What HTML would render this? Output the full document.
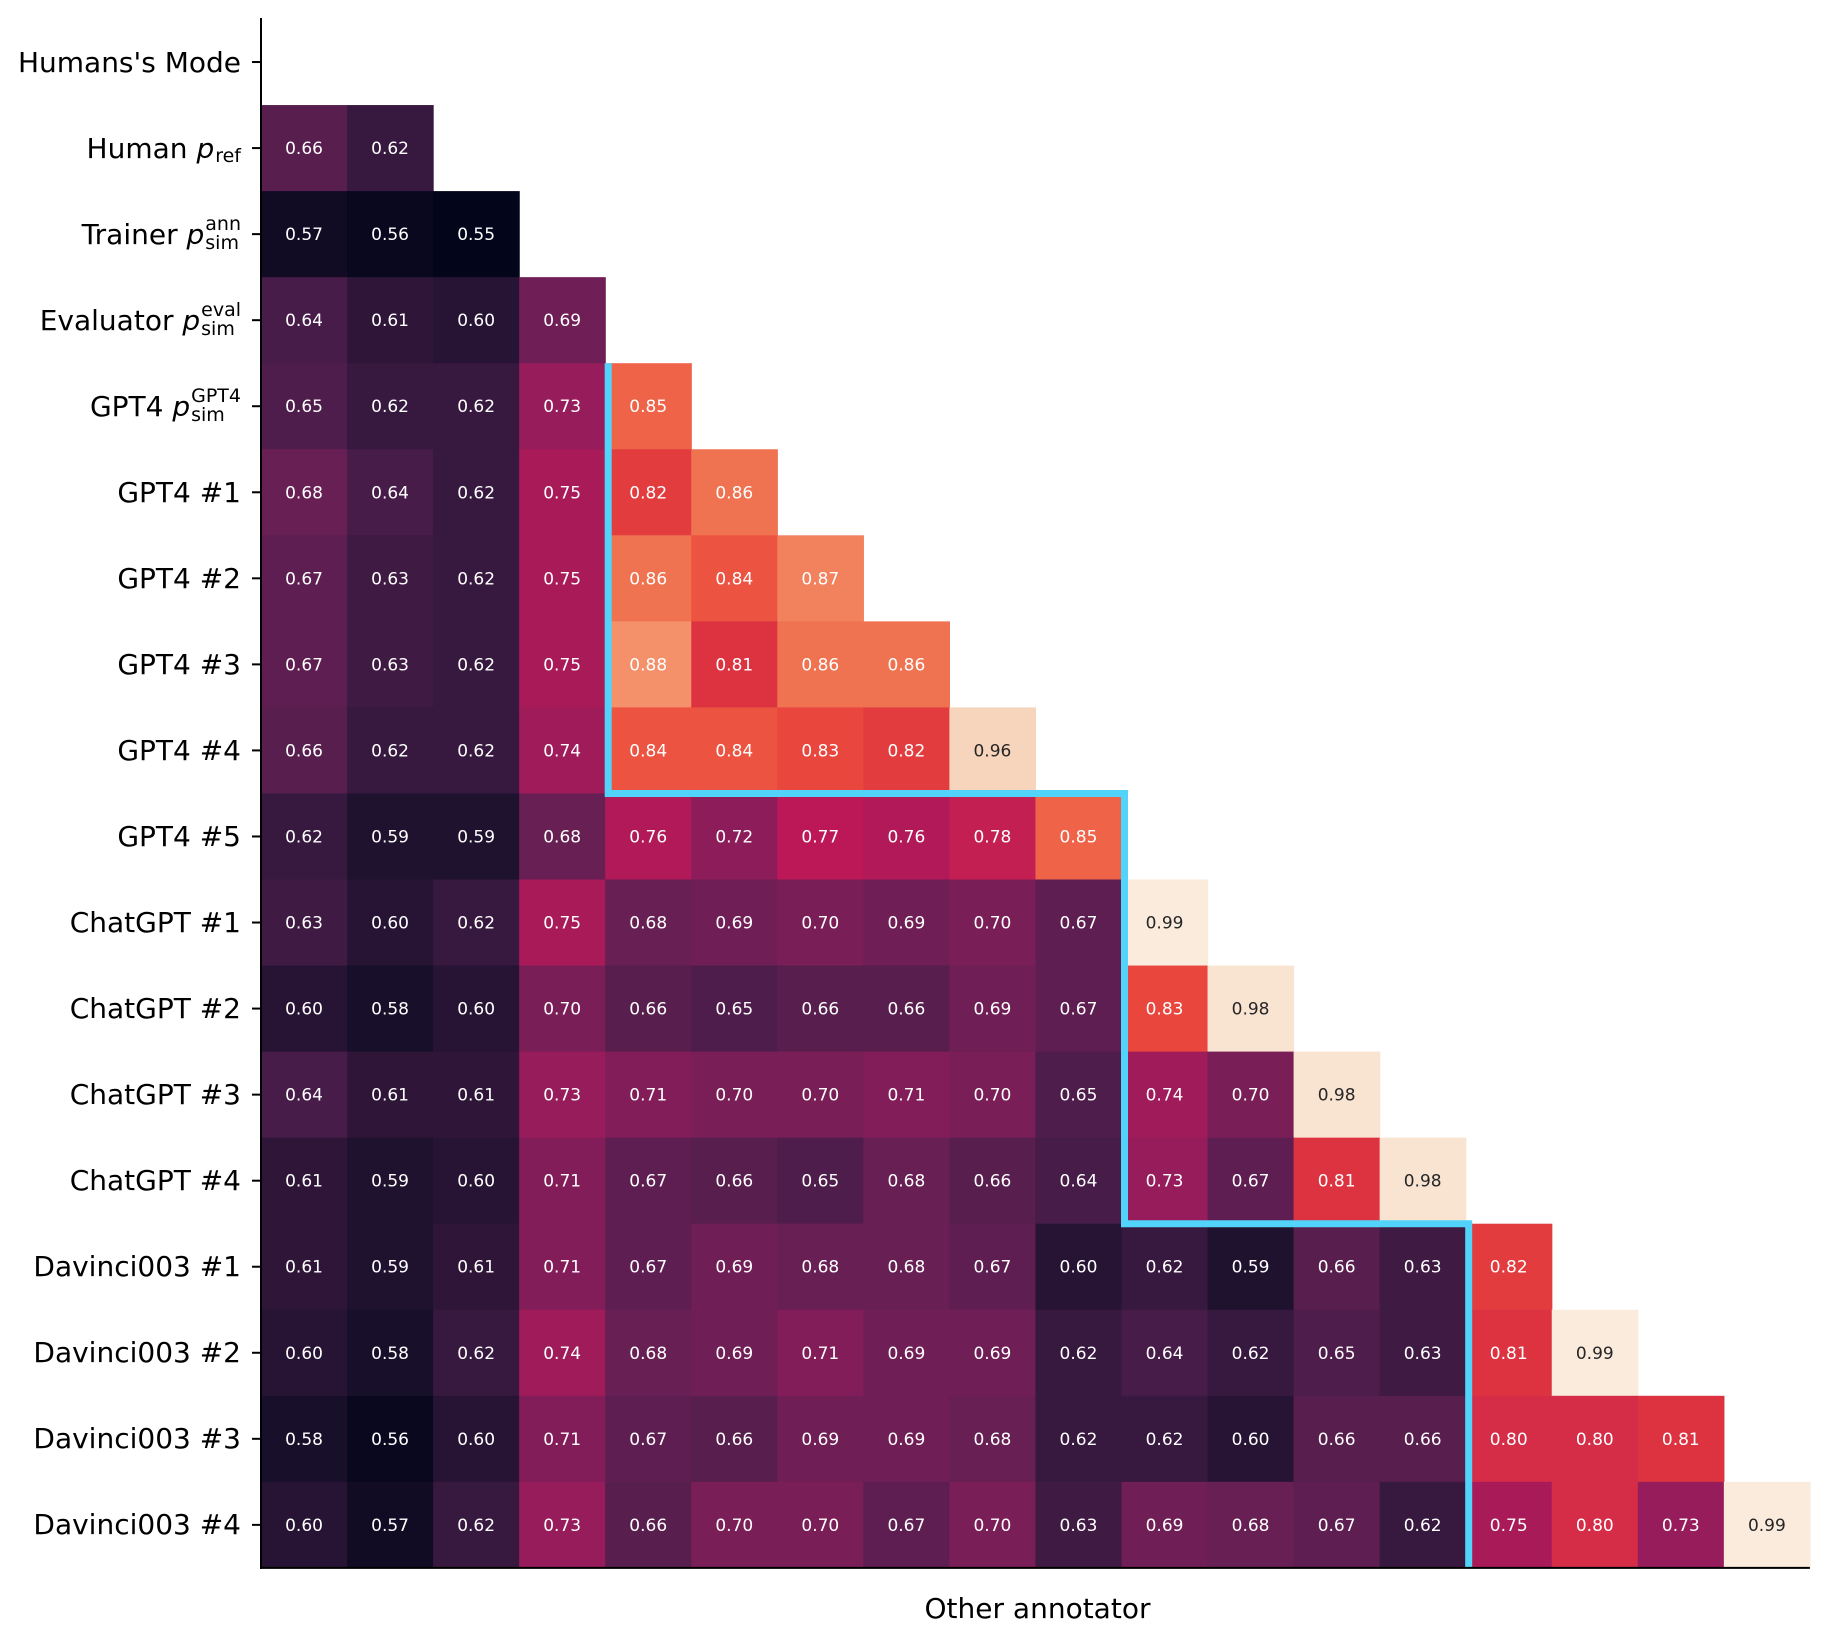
<!DOCTYPE html>
<html><head><meta charset="utf-8">
<style>
html,body{margin:0;padding:0;background:#fff;}
#wrap{position:relative;width:1830px;height:1638px;font-family:"DejaVu Sans","Liberation Sans",sans-serif;}
svg{position:absolute;left:0;top:0;}
.ylab{position:absolute;right:1589px;font-size:28px;color:#000;white-space:nowrap;display:flex;align-items:center;height:60px;}
.ylab i{font-style:italic;}
.ss{display:inline-flex;flex-direction:column;font-size:19px;line-height:19px;margin-left:1px;}
.sub{font-size:19px;position:relative;top:8px;margin-left:1px;}
#xlab{position:absolute;left:0;width:100%;top:1592px;text-align:center;font-size:28px;padding-left:245px;box-sizing:border-box;}
</style></head>
<body>
<div id="wrap">
<svg id="chart" width="1830" height="1638"></svg>
<div class="ylab">Humans's Mode</div>
<div class="ylab">Human&nbsp;<i>p</i><span class="sub">ref</span></div>
<div class="ylab">Trainer&nbsp;<i>p</i><span class="ss"><span>ann</span><span>sim</span></span></div>
<div class="ylab">Evaluator&nbsp;<i>p</i><span class="ss"><span>eval</span><span>sim</span></span></div>
<div class="ylab">GPT4&nbsp;<i>p</i><span class="ss"><span>GPT4</span><span>sim</span></span></div>
<div class="ylab">GPT4 #1</div>
<div class="ylab">GPT4 #2</div>
<div class="ylab">GPT4 #3</div>
<div class="ylab">GPT4 #4</div>
<div class="ylab">GPT4 #5</div>
<div class="ylab">ChatGPT #1</div>
<div class="ylab">ChatGPT #2</div>
<div class="ylab">ChatGPT #3</div>
<div class="ylab">ChatGPT #4</div>
<div class="ylab">Davinci003 #1</div>
<div class="ylab">Davinci003 #2</div>
<div class="ylab">Davinci003 #3</div>
<div class="ylab">Davinci003 #4</div>
<div id="xlab">Other annotator</div>
</div>
<script>
const rowLabels = ["Humans's Mode","Human p_ref","Trainer","Evaluator","GPT4 p_sim","GPT4 #1","GPT4 #2","GPT4 #3","GPT4 #4","GPT4 #5","ChatGPT #1","ChatGPT #2","ChatGPT #3","ChatGPT #4","Davinci003 #1","Davinci003 #2","Davinci003 #3","Davinci003 #4"];
const row1 = [.66,.62];
const row2 = [.57,.56,.55];
const row3 = [.64,.61,.60,.69];
const row4 = [.65,.62,.62,.73,.85];
const row5 = [.68,.64,.62,.75,.82,.86];
const row6 = [.67,.63,.62,.75,.86,.84,.87];
const row7 = [.67,.63,.62,.75,.88,.81,.86,.86];
const row8 = [.66,.62,.62,.74,.84,.84,.83,.82,.96];
const row9 = [.62,.59,.59,.68,.76,.72,.77,.76,.78,.85];
const row10 = [.63,.60,.62,.75,.68,.69,.70,.69,.70,.67,.99];
const row11 = [.60,.58,.60,.70,.66,.65,.66,.66,.69,.67,.83,.98];
const row12 = [.64,.61,.61,.73,.71,.70,.70,.71,.70,.65,.74,.70,.98];
const row13 = [.61,.59,.60,.71,.67,.66,.65,.68,.66,.64,.73,.67,.81,.98];
const row14 = [.61,.59,.61,.71,.67,.69,.68,.68,.67,.60,.62,.59,.66,.63,.82];
const row15 = [.60,.58,.62,.74,.68,.69,.71,.69,.69,.62,.64,.62,.65,.63,.81,.99];
const row16 = [.58,.56,.60,.71,.67,.66,.69,.69,.68,.62,.62,.60,.66,.66,.80,.80,.81];
const row17 = [.60,.57,.62,.73,.66,.70,.70,.67,.70,.63,.69,.68,.67,.62,.75,.80,.73,.99];
const rows = [[],row1,row2,row3,row4,row5,row6,row7,row8,row9,row10,row11,row12,row13,row14,row15,row16,row17];
// group boundaries (row/col index) for the cyan outline
const groupSteps = [4,9,14];

const X0=261, Y0=19, CW=86.05, CH=86.05, N=18;
const vmin=0.55, vmax=0.99;
const xs = c => X0 + c*CW;
const ys = r => Y0 + r*CH;
const stops = [[0,"#03051a"],[0.1,"#221331"],[0.2,"#451c47"],[0.3,"#691f55"],[0.4,"#921c5b"],[0.5,"#bc1857"],[0.6,"#e0363f"],[0.65,"#ec4c3e"],[0.7,"#f0704f"],[0.75,"#f4906a"],[0.85,"#f6b48f"],[0.93,"#f7d4bb"],[1,"#faebdd"]];
function hx(h){return [1,3,5].map(i=>parseInt(h.substr(i,2),16));}
function color(v){
  let t=Math.max(0,Math.min(1,(v-vmin)/(vmax-vmin)));
  for(let i=0;i<stops.length-1;i++){
    const [a,ca]=stops[i],[b,cb]=stops[i+1];
    if(t<=b){const f=(t-a)/(b-a);const A=hx(ca),B=hx(cb);
      return "rgb("+A.map((x,k)=>Math.round(x+(B[k]-x)*f)).join(",")+")";}
  }
  return stops[stops.length-1][1];
}
const NS="http://www.w3.org/2000/svg";
const svg=document.getElementById('chart');
function mk(tag,attrs){const e=document.createElementNS(NS,tag);for(const k in attrs)e.setAttribute(k,attrs[k]);return e;}
rows.forEach((r,i)=>{
  r.forEach((v,j)=>{
    const rect=mk('rect',{x:xs(j),y:ys(i),width:CW+0.6,height:CH+0.6,fill:color(v)});
    
    
    svg.appendChild(rect);
    const t=mk('text',{x:xs(j)+CW/2,y:ys(i)+CH/2+6,'text-anchor':'middle','font-size':'17','font-family':'DejaVu Sans, Liberation Sans, sans-serif',fill:v>=0.93?'#262626':'#ffffff'});
    t.textContent=v.toFixed(2);
    
    
    svg.appendChild(t);
  });
});
// cyan outline
const [g1,g2,g3]=groupSteps;
const off=3;
const pts=[[xs(g1)+off,ys(g1)],[xs(g1)+off,ys(g2)],[xs(g2+1)+off,ys(g2)],[xs(g2+1)+off,ys(g3)],[xs(g3)+off,ys(g3)],[xs(g3)+off,ys(N)]];
const pl=mk('polyline',{points:pts.map(p=>p.join(',')).join(' '),fill:'none',stroke:'#52d4fa','stroke-width':7});


svg.appendChild(pl);
// axes
const ya=mk('line',{x1:X0,y1:18,x2:X0,y2:ys(N)+1,stroke:'#000','stroke-width':2});


svg.appendChild(ya);
const xa=mk('line',{x1:X0-1,y1:ys(N),x2:xs(N),y2:ys(N),stroke:'#000','stroke-width':2});


svg.appendChild(xa);
rowLabels.forEach((l,i)=>{
  const tk=mk('line',{x1:X0-9,y1:ys(i)+CH/2,x2:X0,y2:ys(i)+CH/2,stroke:'#000','stroke-width':2});
  
  
  svg.appendChild(tk);
});
document.querySelectorAll('.ylab').forEach((d,i)=>{d.style.top=(ys(i)+CH/2-30)+'px';});
</script>
</body></html>
